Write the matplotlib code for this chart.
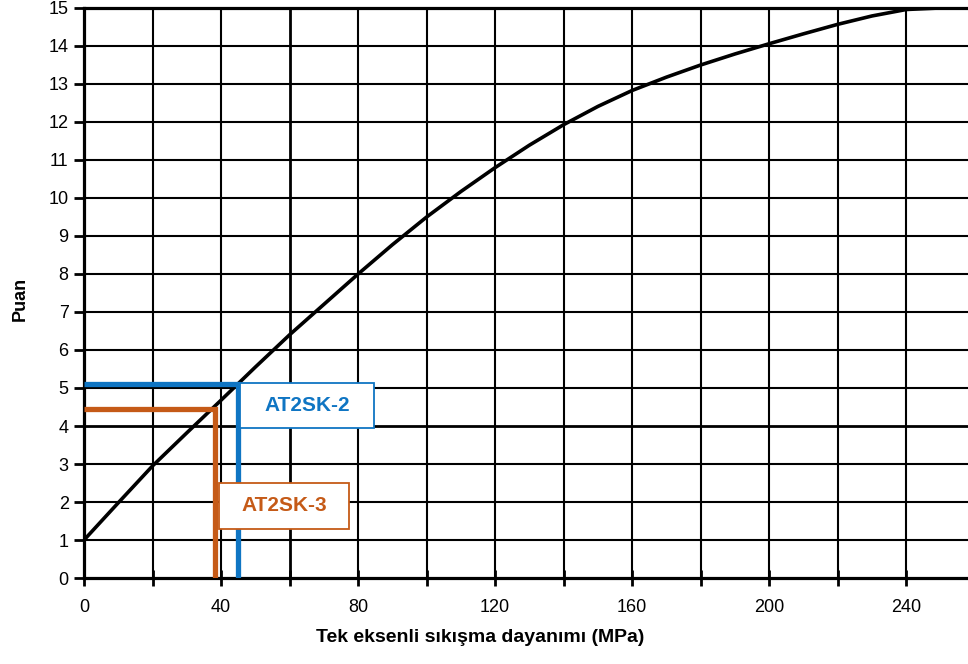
import matplotlib.pyplot as plt
import numpy as np
from matplotlib.patches import Rectangle

plt.rcParams["font.family"] = ["Liberation Sans", "DejaVu Sans"]

# curve (MPa -> Puan)
strength = [0, 10, 20, 30, 40, 50, 60, 70, 80, 90, 100, 110, 120, 130,
            140, 150, 160, 170, 180, 190, 200, 210, 220, 230, 240, 250, 258]
score = [1.0, 1.98, 2.95, 3.82, 4.68, 5.55, 6.4, 7.2, 8.0, 8.77, 9.5, 10.17,
         10.8, 11.39, 11.93, 12.41, 12.83, 13.18, 13.5, 13.79, 14.06, 14.32,
         14.57, 14.79, 14.96, 15.0, 15.0]

samples = ["AT2SK-2", "AT2SK-3"]
sample_mpa = [44.8, 38.3]
sample_puan = [5.1, 4.46]
sample_colors = ["#0f75c3", "#c55a17"]

fig = plt.figure(figsize=(9.68, 6.64), dpi=100)
ax = fig.add_axes([0.0868, 0.1295, 0.9132, 0.8585])

ax.set_xlim(0, 258)
ax.set_ylim(0, 15)

# grid
for xv in np.arange(20, 258, 20):
    lw = 2.0 if xv == 60 else 1.5
    ax.axvline(xv, color="black", lw=lw, zorder=1)
for yv in np.arange(1, 15):
    lw = 2.0 if yv == 4 else 1.5
    ax.axhline(yv, color="black", lw=lw, zorder=1)

for side in ["left", "bottom", "top"]:
    ax.spines[side].set_linewidth(2.3)
ax.spines["right"].set_visible(False)

ax.plot(strength, score, color="black", lw=2.6, zorder=3,
        solid_joinstyle="round")

for xm, yp, c in zip(sample_mpa, sample_puan, sample_colors):
    ax.plot([0, xm, xm], [yp, yp, 0], color=c, lw=3.8, zorder=4,
            solid_joinstyle="miter", solid_capstyle="butt")

# label boxes (x0, y0, x1, y1 in data units)
boxes = [(45.6, 3.95, 84.5, 5.13), (39.5, 1.29, 77.2, 2.5)]
for name, c, (x0, y0, x1, y1) in zip(samples, sample_colors, boxes):
    ax.add_patch(Rectangle((x0, y0), x1 - x0, y1 - y0, fc="white", ec=c,
                           lw=1.3, zorder=5))
    ax.text((x0 + x1) / 2, (y0 + y1) / 2, name, color=c, fontsize=15,
            fontweight="bold", ha="center", va="center", zorder=6)

ax.set_xticks(np.arange(0, 258, 20))
ax.set_xticklabels([str(v) if v % 40 == 0 else "" for v in range(0, 258, 20)])
ax.set_yticks(np.arange(0, 16, 1))
ax.tick_params(axis="x", direction="inout", length=12, width=2,
               labelsize=13, pad=9)
ax.tick_params(axis="y", direction="out", length=7, width=2,
               labelsize=13, pad=4)

ax.set_xlabel("Tek eksenli sıkışma dayanımı (MPa)", fontsize=14,
              fontweight="bold")
ax.xaxis.set_label_coords(0.448, -0.09)
ax.set_ylabel("Puan", fontsize=13, fontweight="bold")
ax.yaxis.set_label_coords(-0.063, 0.49)

fig.savefig("out.png", dpi=100)
